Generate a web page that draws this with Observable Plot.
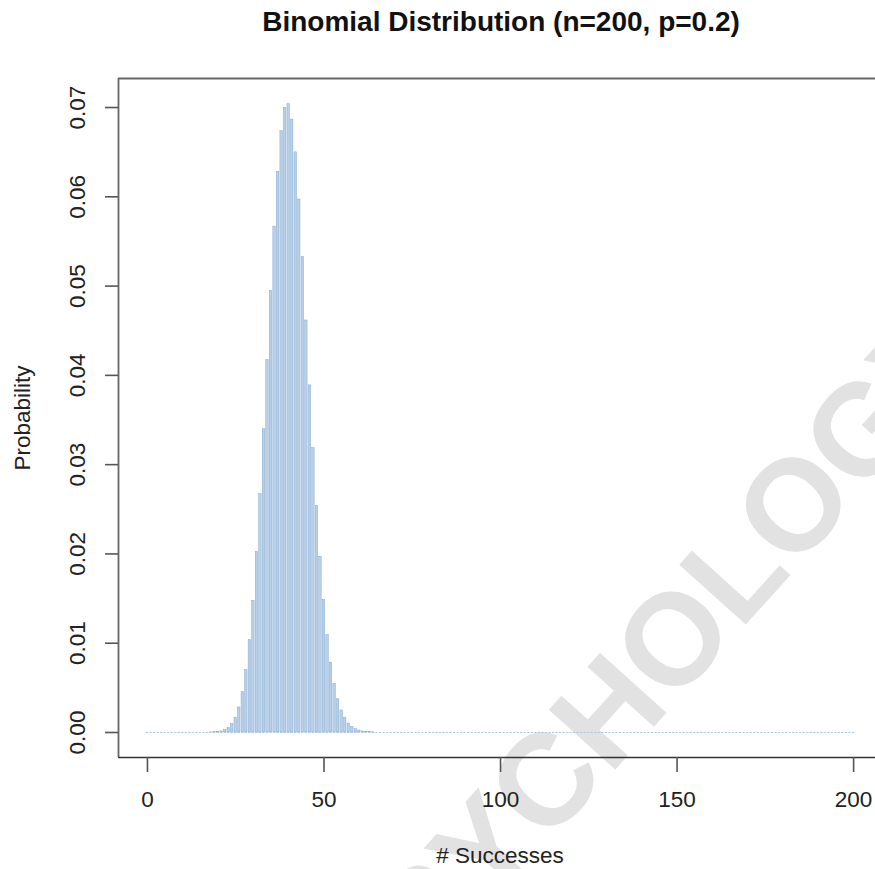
<!DOCTYPE html>
<html>
<head>
<meta charset="utf-8">
<script src="https://cdn.jsdelivr.net/npm/d3@7"></script>
<script src="https://cdn.jsdelivr.net/npm/@observablehq/plot@0.6"></script>
<style>
  html, body { margin: 0; padding: 0; background: #fff; }
  #chart svg { display: block; }
</style>
</head>
<body>
<div id="chart"></div>
<script>
// ---- data ----
const title = "Binomial Distribution (n=200, p=0.2)";
const xLabel = "# Successes";
const yLabel = "Probability";
const xTicks = [0, 50, 100, 150, 200];
const yTicks = [0, 0.01, 0.02, 0.03, 0.04, 0.05, 0.06, 0.07];
const yTickLabels = ["0.00", "0.01", "0.02", "0.03", "0.04", "0.05", "0.06", "0.07"];
// successes 0..200
const successes = d3.range(0, 201);
// probabilities (k = 18 .. 64); all other bars are at 0
const firstNonZero = 18;
const probNonZero = [
  0.0000115, 0.0000269, 0.0000608, 0.000130, 0.000265, 0.000514, 0.000947, 0.001667,
  0.002805, 0.004519, 0.006980, 0.01035, 0.01475, 0.02022, 0.02669, 0.03397,
  0.04171, 0.04946, 0.05667, 0.06280, 0.06734, 0.06993, 0.07037, 0.06865,
  0.06498, 0.05969, 0.05325, 0.04615, 0.03888, 0.03185, 0.02538, 0.01968,
  0.01486, 0.01093, 0.007828, 0.005465, 0.003719, 0.002468, 0.001598, 0.001009,
  0.000622, 0.000374, 0.000220, 0.000126, 0.0000707, 0.0000387, 0.0000207
];
const table = successes.map(k => ({
  k,
  p: (k >= firstNonZero && k < firstNonZero + probNonZero.length) ? probNonZero[k - firstNonZero] : 0
}));

const font = "'Liberation Sans', Arial, Helvetica, sans-serif";
const axisColor = "#333";

const chart = Plot.plot({
  width: 875,
  height: 869,
  marginLeft: 118,
  marginRight: 0,
  marginTop: 78,
  marginBottom: 112,
  style: { fontFamily: font, background: "transparent" },
  x: { type: "linear", domain: [-8.2, 206.2] },
  y: { type: "linear", domain: [-0.0028, 0.07325] },
  marks: [
    // bars
    Plot.rectY(table.filter(d => d.p > 0), {
      x1: d => d.k - 0.5, x2: d => d.k + 0.5, y1: 0, y2: "p",
      insetLeft: 0.55, insetRight: 0.55,
      fill: "#bad0e7", stroke: "#7aa4cf", strokeWidth: 0.45
    }),
    // baseline borders of each bar (the dotted look of zero-height bars)
    Plot.ruleY(table, {
      y: () => 0, x1: d => d.k - 0.33, x2: d => d.k + 0.33,
      stroke: "#a8c4e0", strokeWidth: 0.9
    }),
    // box: left, top, bottom
    Plot.ruleX([-8.2], { stroke: "#666", strokeWidth: 1.8 }),
    Plot.ruleY([0.07325], { stroke: "#666", strokeWidth: 1.8 }),
    Plot.ruleY([-0.0028], { stroke: axisColor, strokeWidth: 1.6 }),
    // axis ticks
    Plot.axisX({ ticks: xTicks, tickSize: 15, tickFormat: () => "", label: null, stroke: "#555", strokeWidth: 1.6 }),
    Plot.axisY({ ticks: yTicks, tickSize: 13, tickFormat: () => "", label: null, stroke: "#555", strokeWidth: 1.6 }),
    // tick labels
    Plot.text(xTicks, {
      x: d => d, frameAnchor: "bottom", dy: 42, lineAnchor: "middle",
      text: d => String(d), fontSize: 22.5, fill: "#222"
    }),
    Plot.text(yTicks, {
      y: d => d, frameAnchor: "left", dx: -41, rotate: -90,
      textAnchor: "middle", lineAnchor: "middle",
      text: (d, i) => yTickLabels[i], fontSize: 22.5, fill: "#222"
    }),
    // axis titles
    Plot.text([xLabel], {
      frameAnchor: "bottom", dx: 3, dy: 98, lineAnchor: "middle",
      text: d => d, fontSize: 22.5, fill: "#222"
    }),
    Plot.text([yLabel], {
      frameAnchor: "left", dx: -96, rotate: -90, textAnchor: "middle", lineAnchor: "middle",
      text: d => d, fontSize: 22.5, fill: "#222"
    }),
    // main title
    Plot.text([title], {
      frameAnchor: "top", dx: 4, dy: -56, lineAnchor: "middle",
      text: d => d, fontSize: 28, fontWeight: "bold", fill: "#111"
    })
  ]
});

// watermark, placed behind all marks
const svg = d3.select(chart);
svg.insert("text", ":scope > :not(style)")
  .attr("transform", "translate(646,668) rotate(-48)")
  .attr("text-anchor", "middle")
  .attr("dominant-baseline", "central")
  .attr("font-family", font)
  .attr("font-weight", "bold")
  .attr("font-size", 130)
  .attr("fill", "#e2e2e2")
  .text("PSYCHOLOGY");

document.getElementById("chart").appendChild(chart);
</script>
</body>
</html>
